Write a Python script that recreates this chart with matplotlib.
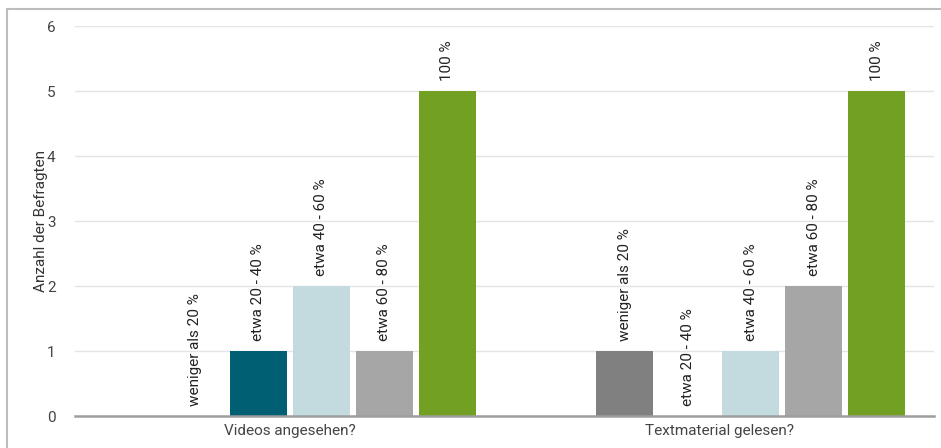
import numpy as np
import matplotlib.pyplot as plt
from matplotlib.patches import Rectangle

plt.rcParams['font.family'] = ['Roboto', 'DejaVu Sans']

categories = ['Videos angesehen?', 'Textmaterial gelesen?']
series = ['weniger als 20 %', 'etwa 20 - 40 %', 'etwa 40 - 60 %', 'etwa 60 - 80 %', '100 %']
values = [
    [0, 1],  # weniger als 20 %
    [1, 0],  # etwa 20 - 40 %
    [2, 1],  # etwa 40 - 60 %
    [1, 2],  # etwa 60 - 80 %
    [5, 5],  # 100 %
]
colors = ['#808080', '#005f73', '#c3dadf', '#a6a6a6', '#72a023']

fig = plt.figure(figsize=(9.41, 4.48), dpi=100)
ax = fig.add_axes([75 / 941, 32 / 448, 859 / 941, 390 / 448])

x = np.arange(len(categories))
step = 0.1465
width = 0.1326
for i, (name, vals, col) in enumerate(zip(series, values, colors)):
    pos = x + (i - 1.5) * step
    ax.bar(pos, vals, width=width, color=col, zorder=2)
    for p, v in zip(pos, vals):
        ax.annotate(name, (p, v), xytext=(0, 7), textcoords='offset points',
                    rotation=90, ha='center', va='bottom', fontsize=11,
                    color='#222222')

ax.set_xlim(-0.5, 1.5)
ax.set_ylim(0, 6)
ax.set_yticks(range(0, 7))
ax.set_xticks(x)
ax.set_xticklabels(categories)
ax.set_ylabel('Anzahl der Befragten', fontsize=11, color='#333333', labelpad=-1)
ax.tick_params(axis='both', length=0, labelsize=11, colors='#444444')
ax.tick_params(axis='y', pad=14)
ax.tick_params(axis='x', pad=6)
ax.grid(axis='y', color='#e4e4e4', linewidth=1, zorder=0)
for s in ['top', 'right', 'left']:
    ax.spines[s].set_visible(False)
ax.spines['bottom'].set_color('#9e9e9e')
ax.spines['bottom'].set_linewidth(1.8)
ax.spines['bottom'].set_zorder(3)

# outer frame (cropped at right and bottom)
fig.patches.append(Rectangle((7 / 941, -0.1), 1.2, (448 - 9) / 448 + 0.1,
                             transform=fig.transFigure, fill=False,
                             edgecolor='#bdbdbd', linewidth=1.5))

fig.savefig('out.png', dpi=100)
